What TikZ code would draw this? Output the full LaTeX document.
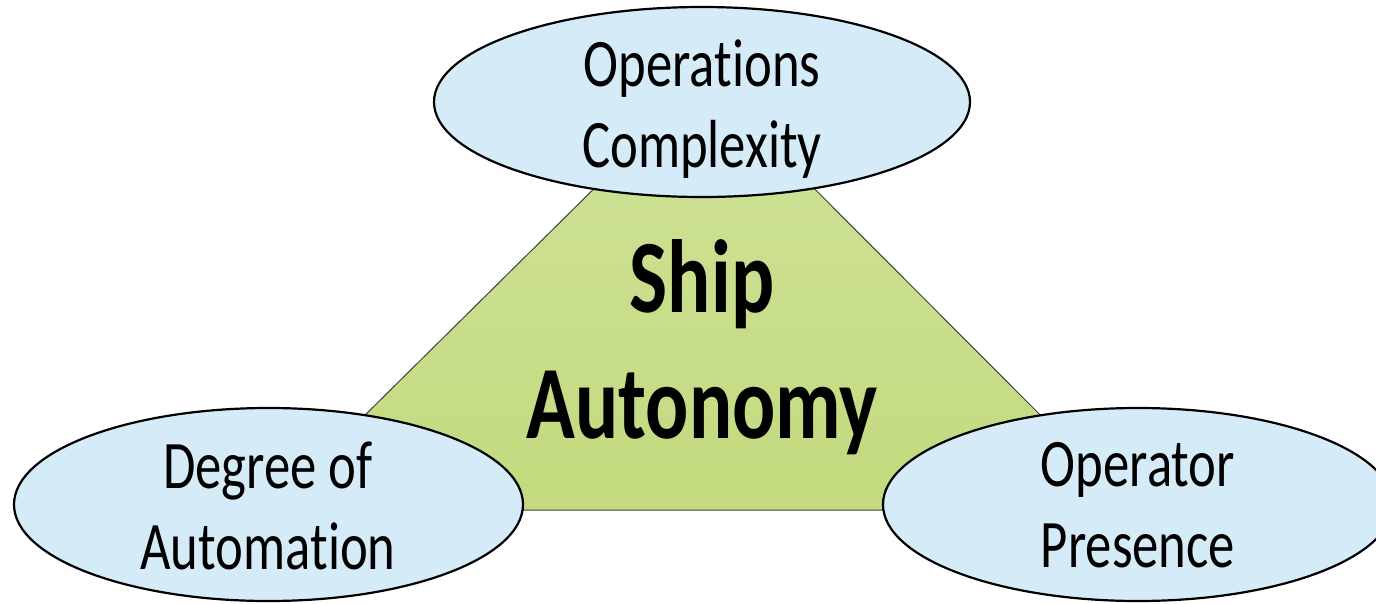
\documentclass[tikz,border=0pt]{standalone}
\usepackage{fontspec}
\setmainfont{Carlito}[Ligatures=NoCommon, FakeStretch=0.775]
\usetikzlibrary{shapes.geometric}
\definecolor{ellfill}{RGB}{214,235,248}
\definecolor{greentop}{RGB}{208,226,154}
\definecolor{greenbot}{RGB}{195,218,126}
\begin{document}
\begin{tikzpicture}[x=1pt,y=-1pt,
  oval/.style={ellipse, draw=black, line width=2.2pt, fill=ellfill, inner sep=0pt},
  ovaltext/.style={align=center, inner sep=0pt, font=\fontsize{68}{81}\selectfont},
  centertext/.style={align=center, inner sep=0pt, font=\bfseries\fontsize{104}{126}\selectfont}
]
\useasboundingbox (0,0) rectangle (1376,603);
\clip (0,0) rectangle (1376,603);
\fill[white] (0,0) rectangle (1376,603);
\coordinate (apex) at (705,79);
\coordinate (bl) at (269,510);
\coordinate (br) at (1135,510);
\shade[top color=greentop, bottom color=greenbot] (apex) -- (bl) -- (br) -- cycle;
\draw[black!75, line width=1pt] (apex) -- (bl) -- (br) -- cycle;
\node[centertext] (ship) at (702,347) {Ship\\Autonomy};
\node[oval, minimum width=536pt, minimum height=190pt] (ops) at (702,102) {};
\node[oval, minimum width=509pt, minimum height=193pt] (deg) at (268.5,504.5) {};
\node[oval, minimum width=510pt, minimum height=193pt] (opr) at (1138,504.5) {};
\node[ovaltext] (opsT) at (702,109) {Operations\\Complexity};
\node[ovaltext] (degT) at (268,505.5) {Degree of\\Automation};
\node[ovaltext] (oprT) at (1138,505.5) {Operator\\Presence};
\end{tikzpicture}
\end{document}
